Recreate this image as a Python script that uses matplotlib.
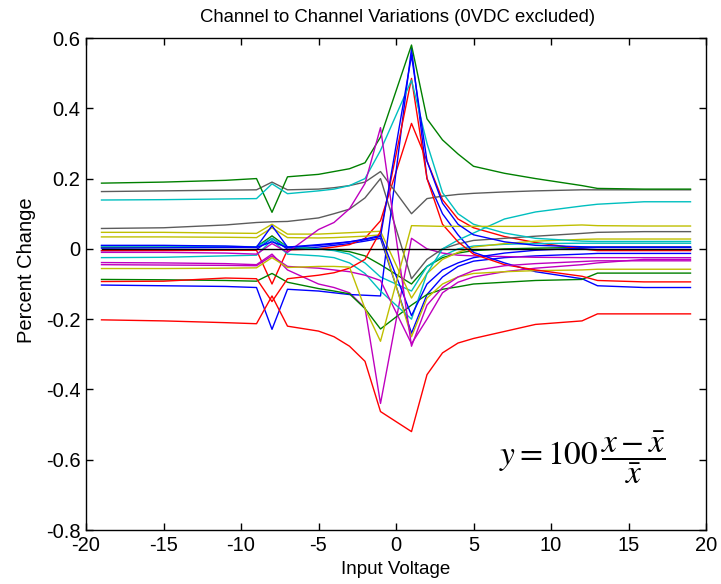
import matplotlib
matplotlib.use("Agg")
import matplotlib.pyplot as plt

plt.rcParams['font.family'] = ['Liberation Sans', 'DejaVu Sans']
plt.rcParams['mathtext.fontset'] = 'stix'

# Input voltages (0 VDC excluded)
X = [-19, -15, -11, -9, -8, -7, -5, -4, -3, -2, -1, 1, 2, 3, 4, 5, 7, 9, 12, 13, 16, 19]

G1 = [0.187, 0.19, 0.195, 0.2, 0.104, 0.205, 0.212, 0.22, 0.228, 0.245, 0.318, 0.58, 0.37, 0.31, 0.27, 0.235, 0.215, 0.2, 0.18, 0.172, 0.17, 0.17]
GRAY_A = [0.163, 0.165, 0.167, 0.168, 0.19, 0.168, 0.17, 0.174, 0.18, 0.19, 0.22, 0.10, 0.143, 0.15, 0.155, 0.158, 0.162, 0.165, 0.168, 0.168, 0.168, 0.168]
CYAN_A = [0.139, 0.14, 0.142, 0.143, 0.185, 0.157, 0.165, 0.17, 0.18, 0.2, 0.28, 0.48, 0.3, 0.16, 0.1, 0.07, 0.045, 0.03, 0.022, 0.021, 0.021, 0.021]
GRAY_B = [0.058, 0.06, 0.068, 0.075, 0.077, 0.078, 0.088, 0.1, 0.113, 0.145, 0.2, -0.085, -0.03, 0.0, 0.014, 0.024, 0.03, 0.036, 0.044, 0.047, 0.049, 0.049]
CYAN_B = [-0.025, -0.024, -0.02, -0.018, 0.025, -0.015, -0.02, -0.025, -0.04, -0.07, -0.12, -0.2, -0.07, 0.0, 0.025, 0.045, 0.085, 0.105, 0.122, 0.127, 0.134, 0.134]
CYAN_C = [0.008, 0.008, 0.007, 0.006, 0.03, 0.005, 0.0, -0.005, -0.015, -0.04, -0.08, -0.12, -0.05, -0.02, 0.0, 0.008, 0.013, 0.015, 0.016, 0.016, 0.016, 0.016]
YEL_A = [0.047, 0.047, 0.045, 0.044, 0.07, 0.042, 0.042, 0.044, 0.046, 0.048, 0.05, -0.14, -0.07, -0.03, -0.01, 0.005, 0.015, 0.022, 0.027, 0.028, 0.028, 0.028]
YEL_B = [0.034, 0.034, 0.033, 0.032, 0.06, 0.032, 0.031, 0.032, 0.034, 0.036, 0.04, -0.25, -0.14, -0.1, -0.08, -0.07, -0.065, -0.062, -0.06, -0.058, -0.058, -0.058]
YEL_C = [-0.056, -0.056, -0.055, -0.054, -0.025, -0.053, -0.05, -0.05, -0.052, -0.17, -0.263, 0.066, 0.065, 0.064, 0.064, 0.064, 0.064, 0.064, 0.068, 0.066, 0.065, 0.065]
MAG_D = [-0.01, -0.01, -0.012, -0.015, 0.015, -0.01, 0.055, 0.075, 0.114, 0.186, 0.345, -0.277, -0.16, -0.11, -0.08, -0.062, -0.048, -0.042, -0.036, -0.034, -0.034, -0.034]
MAG_E = [-0.039, -0.04, -0.042, -0.045, -0.015, -0.06, -0.1, -0.11, -0.125, -0.168, -0.44, 0.03, 0.0, -0.012, -0.018, -0.02, -0.022, -0.024, -0.025, -0.025, -0.025, -0.025]
MAG_F = [-0.045, -0.046, -0.047, -0.048, -0.02, -0.05, -0.055, -0.06, -0.065, -0.075, -0.09, -0.27, -0.2, -0.125, -0.095, -0.08, -0.065, -0.055, -0.045, -0.04, -0.03, -0.03]
BLUE_A = [-0.103, -0.105, -0.107, -0.11, -0.229, -0.115, -0.12, -0.125, -0.13, -0.132, -0.134, 0.57, 0.2, 0.1, 0.04, -0.01, -0.04, -0.065, -0.085, -0.105, -0.11, -0.11]
BLUE_B = [0.01, 0.01, 0.008, 0.005, 0.066, 0.005, 0.012, 0.016, 0.02, 0.026, 0.035, 0.55, 0.25, 0.13, 0.07, 0.04, 0.02, 0.01, 0.006, 0.005, 0.005, 0.005]
BLUE_C = [-0.005, -0.004, -0.003, -0.002, 0.03, -0.001, 0.005, 0.01, 0.015, 0.022, 0.03, -0.24, -0.13, -0.08, -0.05, -0.035, -0.025, -0.02, -0.015, -0.013, -0.013, -0.013]
BLUE_D = [0.002, 0.003, 0.004, 0.004, 0.02, 0.004, 0.01, 0.014, 0.02, 0.028, 0.038, -0.19, -0.1, -0.06, -0.04, -0.025, -0.012, -0.004, 0.002, 0.004, 0.004, 0.004]
RED_A = [-0.202, -0.205, -0.21, -0.213, -0.134, -0.22, -0.234, -0.25, -0.277, -0.32, -0.463, -0.52, -0.358, -0.296, -0.268, -0.255, -0.235, -0.215, -0.205, -0.185, -0.185, -0.185]
RED_B = [-0.093, -0.092, -0.083, -0.085, -0.15, -0.085, -0.075, -0.068, -0.055, -0.03, 0.05, 0.485, 0.2, 0.07, 0.02, -0.015, -0.045, -0.06, -0.078, -0.09, -0.094, -0.094]
RED_C = [-0.005, -0.005, -0.004, -0.004, -0.1, -0.003, 0.0, 0.005, 0.012, 0.03, 0.08, 0.357, 0.25, 0.14, 0.085, 0.06, 0.035, 0.018, 0.0, -0.005, -0.005, -0.005]
GRN_B = [0.005, 0.005, 0.006, 0.006, 0.037, 0.005, 0.0, -0.003, -0.008, -0.02, -0.045, -0.1, -0.05, -0.025, -0.012, -0.005, 0.0, 0.002, 0.004, 0.005, 0.005, 0.005]
GRN_C = [-0.087, -0.088, -0.09, -0.092, -0.07, -0.095, -0.113, -0.12, -0.128, -0.17, -0.228, -0.16, -0.13, -0.115, -0.108, -0.1, -0.095, -0.09, -0.087, -0.069, -0.069, -0.069]
ZERO = [0.0, 0.0, 0.0, 0.0, 0.0, 0.0, 0.0, 0.0, 0.0, 0.0, 0.0, 0.0, 0.0, 0.0, 0.0, 0.0, 0.0, 0.0, 0.0, 0.0, 0.0, 0.0]

XTICKS = [-20, -15, -10, -5, 0, 5, 10, 15, 20]
XTICKLABELS = ['-20', '-15', '-10', '-5', '0', '5', '10', '15', '20']
YTICKS = [-0.8, -0.6, -0.4, -0.2, 0.0, 0.2, 0.4, 0.6]
YTICKLABELS = ['-0.8', '-0.6', '-0.4', '-0.2', '0', '0.2', '0.4', '0.6']

B = (0, 0, 1)
G = (0, 0.5, 0)
R = (1, 0, 0)
C = (0, 0.75, 0.75)
M = (0.75, 0, 0.75)
Y = (0.75, 0.75, 0)
K = (0.36, 0.36, 0.36)

series = [
    (BLUE_C, B), (GRN_B, G), (RED_C, R), (CYAN_C, C), (MAG_E, M), (YEL_A, Y), (GRAY_B, K),
    (BLUE_A, B), (GRN_C, G), (RED_A, R), (CYAN_B, C), (MAG_F, M), (YEL_B, Y), (GRAY_A, K),
    (BLUE_D, B), (G1, G), (RED_B, R), (CYAN_A, C), (MAG_D, M), (YEL_C, Y), (BLUE_B, B),
]

fig = plt.figure(figsize=(7.21, 5.84), dpi=100)
ax = fig.add_axes([86 / 721, 1 - 530 / 584, (706 - 86) / 721, (530 - 38) / 584])

for vals, col in series:
    ax.plot(X, vals, color=col, linewidth=1.0)
ax.plot(X, ZERO, color='black', linewidth=1.0)

ax.set_xlim(-20, 20)
ax.set_ylim(-0.8, 0.6)
ax.set_xticks(XTICKS)
ax.set_xticklabels(XTICKLABELS)
ax.set_yticks(YTICKS)
ax.set_yticklabels(YTICKLABELS)
ax.tick_params(direction='in', length=5, width=1, top=True, right=True,
               labelsize=14.5, pad=4)
for sp in ax.spines.values():
    sp.set_linewidth(1.0)
    sp.set_color('black')

fig.text(398 / 721, 1 - 18 / 584, 'Channel to Channel Variations (0VDC excluded)',
         ha='center', va='center', fontsize=13.3)
fig.text(396 / 721, 1 - 570 / 584, 'Input Voltage', ha='center', va='center', fontsize=13.5)
fig.text(27 / 721, 1 - 270 / 584, 'Percent Change', ha='center', va='center',
         rotation=90, fontsize=14.5)

fig.text(582 / 721, 1 - 458 / 584, r'$y = 100\,\dfrac{x-\bar{x}}{\bar{x}}$',
         ha='center', va='center', fontsize=24)

fig.savefig('out.png', dpi=100)
